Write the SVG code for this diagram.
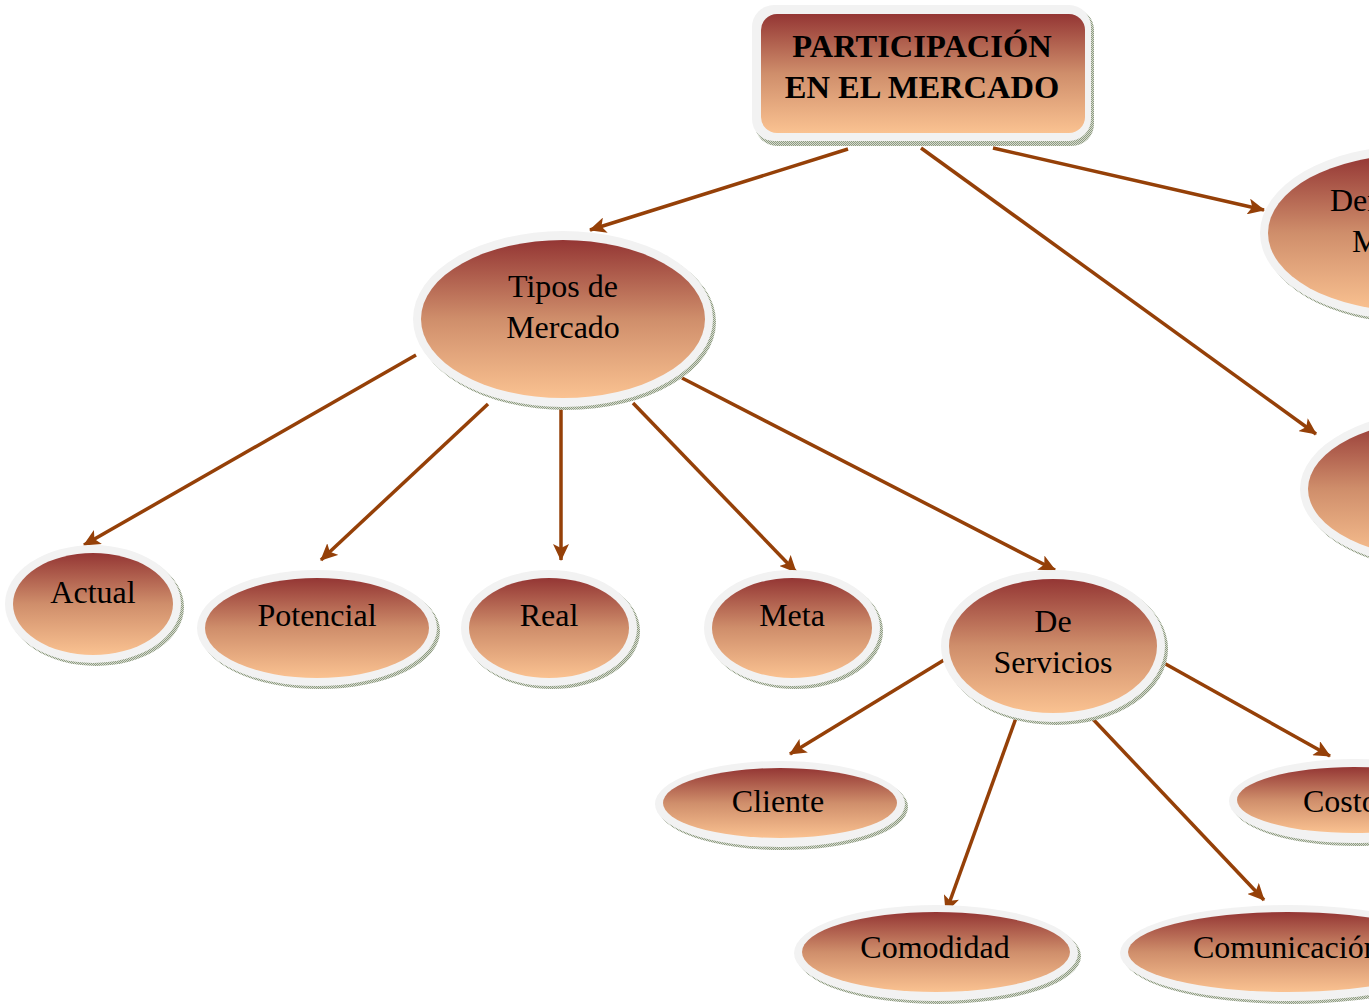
<svg xmlns="http://www.w3.org/2000/svg" width="1369" height="1005" viewBox="0 0 1369 1005">
  <defs>
    <linearGradient id="fillGrad" x1="0" y1="0" x2="0" y2="1">
      <stop offset="0" stop-color="#943634"/>
      <stop offset="0.5" stop-color="#cf8e6b"/>
      <stop offset="1" stop-color="#fac291"/>
    </linearGradient>
    <pattern id="shade" width="2" height="2" patternUnits="userSpaceOnUse">
      <rect width="2" height="2" fill="#d6dccf"/>
      <rect width="1" height="1" fill="#8e9a82"/>
      <rect x="1" y="1" width="1" height="1" fill="#8e9a82"/>
    </pattern>
    <marker id="arrow" markerUnits="userSpaceOnUse" markerWidth="18" markerHeight="16" refX="16" refY="8" orient="auto">
      <path d="M0,0 L17,8 L0,16 L4,8 Z" fill="#954008"/>
    </marker>
  </defs>
  <style>
    .rim { fill: #f2f2f2; }
    .body { fill: url(#fillGrad); }
    .shadow { fill: url(#shade); }
    .label { font-family: "Liberation Serif", "Times New Roman", serif; font-size: 32px; fill: #000; text-anchor: middle; }
    .cut { text-anchor: start; }
    .title { font-family: "Liberation Serif", "Times New Roman", serif; font-size: 32.5px; font-weight: bold; fill: #000; text-anchor: middle; }
    .edge { stroke: #954008; stroke-width: 3.5; fill: none; marker-end: url(#arrow); }
  </style>
  <rect width="1369" height="1005" fill="#ffffff"/>

  <!-- connectors -->
  <g id="connectors">
    <line class="edge" x1="848" y1="149" x2="590" y2="230"/>
    <line class="edge" x1="921" y1="148" x2="1316" y2="434"/>
    <line class="edge" x1="993" y1="148" x2="1264" y2="210"/>
    <line class="edge" x1="416" y1="355" x2="84" y2="545"/>
    <line class="edge" x1="488" y1="404" x2="321" y2="560"/>
    <line class="edge" x1="561" y1="404" x2="561" y2="560"/>
    <line class="edge" x1="633" y1="403" x2="796" y2="572"/>
    <line class="edge" x1="682" y1="378" x2="1055" y2="570"/>
    <line class="edge" x1="944" y1="660" x2="790" y2="754"/>
    <line class="edge" x1="1016" y1="718" x2="946" y2="912"/>
    <line class="edge" x1="1090" y1="716" x2="1264" y2="900"/>
    <line class="edge" x1="1162" y1="662" x2="1330" y2="756"/>
  </g>

  <!-- root box -->
  <g id="participacion">
    <rect class="shadow" x="755" y="8" width="339" height="138" rx="22"/>
    <rect class="rim" x="752" y="5" width="339" height="136" rx="22"/>
    <rect class="body" x="761" y="14" width="324" height="119" rx="16"/>
    <text class="title" x="922" y="57">PARTICIPACIÓN</text>
    <text class="title" x="922" y="98">EN EL MERCADO</text>
  </g>

  <g id="tipos-mercado">
    <ellipse class="shadow" cx="566" cy="322" rx="150" ry="88"/>
    <ellipse class="rim" cx="563" cy="319" rx="150" ry="88"/>
    <ellipse class="body" cx="563" cy="319" rx="142" ry="79"/>
    <text class="label" x="563" y="297">Tipos de</text>
    <text class="label" x="563" y="338">Mercado</text>
  </g>

  <g id="demanda-mercado">
    <ellipse class="shadow" cx="1413" cy="236" rx="150" ry="87"/>
    <ellipse class="rim" cx="1410" cy="233" rx="150" ry="87"/>
    <ellipse class="body" cx="1410" cy="233" rx="142" ry="78"/>
    <text class="label cut" x="1330" y="211">Demanda del</text>
    <text class="label cut" x="1352" y="252">Mercado</text>
  </g>

  <g id="nodo-derecho">
    <ellipse class="shadow" cx="1453" cy="492" rx="150" ry="80"/>
    <ellipse class="rim" cx="1450" cy="489" rx="150" ry="80"/>
    <ellipse class="body" cx="1450" cy="489" rx="142" ry="71"/>
  </g>

  <g id="actual">
    <ellipse class="shadow" cx="96" cy="607" rx="88" ry="59"/>
    <ellipse class="rim" cx="93" cy="604" rx="88" ry="59"/>
    <ellipse class="body" cx="93" cy="604" rx="80" ry="51"/>
    <text class="label" x="93" y="603">Actual</text>
  </g>

  <g id="potencial">
    <ellipse class="shadow" cx="320" cy="631" rx="120" ry="58"/>
    <ellipse class="rim" cx="317" cy="628" rx="120" ry="58"/>
    <ellipse class="body" cx="317" cy="628" rx="112" ry="50"/>
    <text class="label" x="317" y="626">Potencial</text>
  </g>

  <g id="real">
    <ellipse class="shadow" cx="552" cy="631" rx="88" ry="58"/>
    <ellipse class="rim" cx="549" cy="628" rx="88" ry="58"/>
    <ellipse class="body" cx="549" cy="628" rx="80" ry="50"/>
    <text class="label" x="549" y="626">Real</text>
  </g>

  <g id="meta">
    <ellipse class="shadow" cx="795" cy="631" rx="88" ry="58"/>
    <ellipse class="rim" cx="792" cy="628" rx="88" ry="58"/>
    <ellipse class="body" cx="792" cy="628" rx="80" ry="50"/>
    <text class="label" x="792" y="626">Meta</text>
  </g>

  <g id="de-servicios">
    <ellipse class="shadow" cx="1056" cy="649" rx="112" ry="76"/>
    <ellipse class="rim" cx="1053" cy="646" rx="112" ry="76"/>
    <ellipse class="body" cx="1053" cy="646" rx="104" ry="67"/>
    <text class="label" x="1053" y="632">De</text>
    <text class="label" x="1053" y="673">Servicios</text>
  </g>

  <g id="cliente">
    <ellipse class="shadow" cx="783" cy="807" rx="125" ry="43"/>
    <ellipse class="rim" cx="780" cy="804" rx="125" ry="43"/>
    <ellipse class="body" cx="780" cy="803" rx="117" ry="35"/>
    <text class="label" x="778" y="812">Cliente</text>
  </g>

  <g id="costo">
    <ellipse class="shadow" cx="1357" cy="804" rx="125" ry="42"/>
    <ellipse class="rim" cx="1354" cy="801" rx="125" ry="42"/>
    <ellipse class="body" cx="1354" cy="800" rx="117" ry="33"/>
    <text class="label cut" x="1303" y="812">Costo</text>
  </g>

  <g id="comodidad">
    <ellipse class="shadow" cx="939" cy="956" rx="142" ry="48"/>
    <ellipse class="rim" cx="936" cy="953" rx="142" ry="48"/>
    <ellipse class="body" cx="936" cy="952" rx="134" ry="40"/>
    <text class="label" x="935" y="958">Comodidad</text>
  </g>

  <g id="comunicacion">
    <ellipse class="shadow" cx="1291" cy="956" rx="168" ry="48"/>
    <ellipse class="rim" cx="1288" cy="953" rx="168" ry="48"/>
    <ellipse class="body" cx="1288" cy="952" rx="160" ry="40"/>
    <text class="label cut" x="1193" y="958">Comunicación</text>
  </g>
</svg>
